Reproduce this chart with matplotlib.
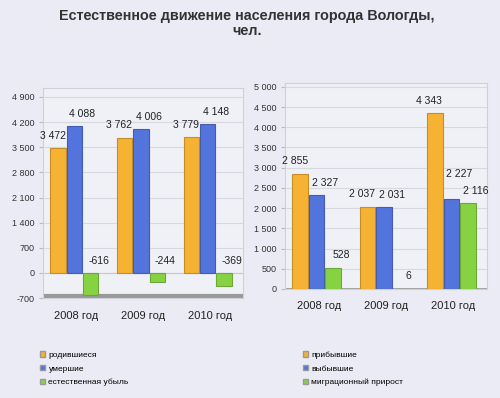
import numpy as np
import matplotlib
matplotlib.use("Agg")
import matplotlib.pyplot as plt
from matplotlib.patches import Patch

plt.rcParams['font.family'] = ['Liberation Sans', 'DejaVu Sans']

# данные
years = ["2008 год", "2009 год", "2010 год"]
born = [3472, 3762, 3779]
died = [4088, 4006, 4148]
natural = [-616, -244, -369]

arrived = [2855, 2037, 4343]
departed = [2327, 2031, 2227]
migration = [528, 6, 2116]

left_ticks = [-700, 0, 700, 1400, 2100, 2800, 3500, 4200, 4900]
right_ticks = [0, 500, 1000, 1500, 2000, 2500, 3000, 3500, 4000, 4500, 5000]

c_orange = "#f5b233"
c_blue = "#5374dc"
c_green = "#86d243"
bg = "#ebebf5"


def fmt(v):
    return f"{v:,}".replace(",", " ")


def draw_panel(ax, series, colors, ticks, ylim, lift=None):
    x = np.arange(len(years))
    w = 0.23
    offs = [-0.245, 0, 0.245]
    lab_shift = [-0.08, 0.12, 0.12]
    if lift is None:
        lift = [[0] * len(years) for _ in series]
    for vals, col, o, sh, lf in zip(series, colors, offs, lab_shift, lift):
        edge = np.array(matplotlib.colors.to_rgb(col)) * 0.8
        bars = ax.bar(x + o - 0.03, vals, w, color=col, edgecolor=edge,
                      linewidth=0.8, zorder=3)
        for b, v, l in zip(bars, vals, lf):
            top = max(v, 0)
            ax.text(b.get_x() + b.get_width() / 2 + sh,
                    top + (ylim[1] - ylim[0]) * (0.035 + l),
                    fmt(v), ha="center", va="bottom", fontsize=7.5, color="#222222", zorder=4)
    ax.set_ylim(*ylim)
    ax.set_xlim(-0.5, 2.5)
    ax.set_yticks(ticks)
    ax.set_yticklabels([fmt(t) for t in ticks], fontsize=6.5, color="#333333")
    ax.set_xticks(x)
    ax.set_xticklabels(years, fontsize=8, color="#222222")
    ax.tick_params(axis="x", length=0, pad=9)
    ax.tick_params(axis="y", length=3, color="#bbbbbb", pad=3)
    ax.grid(axis="y", color="#d8d8e0", linewidth=0.8, zorder=0)
    ax.set_facecolor("#f0f0f7")
    for s in ax.spines.values():
        s.set_color("#d0d0d8")
        s.set_linewidth(0.8)


fig = plt.figure(figsize=(5, 3.98), dpi=100, facecolor=bg)

fig.text(0.494, 0.96, "Естественное движение населения города Вологды,",
         ha="center", va="center", fontsize=10.4, fontweight="bold", color="#333333")
fig.text(0.494, 0.922, "чел.", ha="center", va="center", fontsize=10.4,
         fontweight="bold", color="#333333")

ax1 = fig.add_axes([0.086, 0.251, 0.40, 0.528])
draw_panel(ax1, [born, died, natural], [c_orange, c_blue, c_green], left_ticks, (-700, 5150))
ax1.axhline(-650, color="#999999", linewidth=3, zorder=2)
ax1.axhline(0, color="#c8c8d0", linewidth=0.8, zorder=2)

ax2 = fig.add_axes([0.57, 0.274, 0.404, 0.518])
draw_panel(ax2, [arrived, departed, migration], [c_orange, c_blue, c_green], right_ticks, (0, 5100),
           lift=[[0, 0, 0], [0, 0, 0.06], [0, 0, 0]])
ax2.axhline(0, color="#9a9a9a", linewidth=2, zorder=2)

# легенды
h1 = [Patch(facecolor=c, edgecolor="#999999") for c in (c_orange, c_blue, c_green)]
fig.legend(h1, ["родившиеся", "умершие", "естественная убыль"],
           loc="upper left", bbox_to_anchor=(0.072, 0.128), frameon=False,
           fontsize=6, handlelength=0.6, handleheight=0.6, handletextpad=0.4,
           labelspacing=0.75, borderpad=0)
h2 = [Patch(facecolor=c, edgecolor="#999999") for c in (c_orange, c_blue, c_green)]
fig.legend(h2, ["прибывшие", "выбывшие", "миграционный прирост"],
           loc="upper left", bbox_to_anchor=(0.597, 0.128), frameon=False,
           fontsize=6, handlelength=0.6, handleheight=0.6, handletextpad=0.4,
           labelspacing=0.75, borderpad=0)

fig.savefig("out.png", dpi=100, facecolor=bg)
